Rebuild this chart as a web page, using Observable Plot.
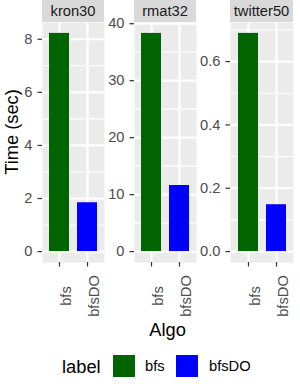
<!DOCTYPE html>
<html>
<head>
<meta charset="utf-8">
<script src="https://cdn.jsdelivr.net/npm/d3@7"></script>
<script src="https://cdn.jsdelivr.net/npm/@observablehq/plot@0.6"></script>
<style>
  html, body { margin: 0; padding: 0; background: #fff; }
  #chart { position: relative; width: 300px; height: 390px; overflow: hidden;
           font-family: "Liberation Sans", Arial, sans-serif; }
  #chart > * { position: absolute; }
  .strip { background: #D9D9D9; color: #1A1A1A; font-size: 14.7px; line-height: 22px;
           text-align: center; white-space: nowrap; }
  .title { color: #000; font-size: 18.3px; line-height: 1; white-space: nowrap; }
  .ytitle { line-height: 21px; }
  .key { width: 22px; height: 22px; }
  .keylabel { color: #000; font-size: 14.7px; line-height: 1; white-space: nowrap; }
</style>
</head>
<body>
<div id="chart"></div>
<script>
// Facets, algorithms and their run times (seconds)
const graphs = ["kron30", "rmat32", "twitter50"];
const algos = ["bfs", "bfsDO"];
const kron30Times = [8.22, 1.84];
const rmat32Times = [38.3, 11.6];
const twitter50Times = [0.689, 0.148];

// Axis ticks per facet (major ticks are labelled, minor ones only get a grid line)
const kron30Ticks = [0, 2, 4, 6, 8];
const kron30Minor = [1, 3, 5, 7];
const rmat32Ticks = [0, 10, 20, 30, 40];
const rmat32Minor = [5, 15, 25, 35];
const twitter50Ticks = [0, 0.2, 0.4, 0.6];
const twitter50Minor = [0.1, 0.3, 0.5, 0.7];

const algoColors = ["#006400", "#0000FF"];

const facetData = [
  {name: graphs[0], times: kron30Times, ticks: kron30Ticks, minor: kron30Minor, fmt: d3.format("d")},
  {name: graphs[1], times: rmat32Times, ticks: rmat32Ticks, minor: rmat32Minor, fmt: d3.format("d")},
  {name: graphs[2], times: twitter50Times, ticks: twitter50Ticks, minor: twitter50Minor, fmt: d3.format(".1f")}
];

// Panel placement: svg left edge and the space reserved for the y axis
const layout = [
  {left: 0, marginLeft: 42, panelWidth: 62},
  {left: 104, marginLeft: 30, panelWidth: 62},
  {left: 196, marginLeft: 34, panelWidth: 63}
];

const chart = document.getElementById("chart");
const marginTop = 22, panelHeight = 240, marginBottom = 56;
const font = "'Liberation Sans', Arial, sans-serif";

facetData.forEach((f, i) => {
  const L = layout[i];
  const rows = algos.map((a, j) => ({algo: a, time: f.times[j]}));
  const maxT = d3.max(f.times);
  const svg = Plot.plot({
    width: L.marginLeft + L.panelWidth,
    height: marginTop + panelHeight + marginBottom,
    marginTop, marginBottom, marginLeft: L.marginLeft, marginRight: 0,
    x: {domain: algos, paddingInner: 0.29, paddingOuter: 0.245, axis: null},
    y: {domain: [-0.05 * maxT, 1.05 * maxT], axis: null},
    color: {domain: algos, range: algoColors},
    style: {fontFamily: font, fontSize: "14.7px", background: "transparent", overflow: "visible"},
    marks: [
      Plot.frame({fill: "#EBEBEB", stroke: "none"}),
      Plot.gridY(f.minor, {stroke: "#fff", strokeOpacity: 1, strokeWidth: 1.1}),
      Plot.gridY(f.ticks, {stroke: "#fff", strokeOpacity: 1, strokeWidth: 2.2}),
      Plot.gridX({stroke: "#fff", strokeOpacity: 1, strokeWidth: 2.2}),
      Plot.barY(rows, {x: "algo", y: "time", fill: "algo"}),
      Plot.axisY(f.ticks, {tickSize: 4.5, tickPadding: 5.5, stroke: "#333333", strokeWidth: 1.2,
                           fill: "#4D4D4D", fontSize: 14.7, tickFormat: f.fmt, label: null}),
      Plot.axisX({tickSize: 4.5, stroke: "#333333", strokeWidth: 1.2, tickFormat: () => "", label: null}),
      Plot.text(algos, {x: d => d, text: d => d, frameAnchor: "bottom", rotate: -90,
                        dx: 7, dy: 33.5, fill: "#4D4D4D", fontSize: 14.7,
                        textAnchor: "middle", lineAnchor: "middle"})
    ]
  });
  svg.style.left = L.left + "px";
  svg.style.top = "0px";
  chart.appendChild(svg);

  const strip = document.createElement("div");
  strip.className = "strip";
  strip.style.left = (L.left + L.marginLeft) + "px";
  strip.style.top = "0px";
  strip.style.width = L.panelWidth + "px";
  strip.style.height = "22px";
  strip.textContent = f.name;
  chart.appendChild(strip);
});

// Axis titles
const yTitle = document.createElement("div");
yTitle.className = "title ytitle";
yTitle.textContent = "Time (sec)";
yTitle.style.left = "10.5px";
yTitle.style.top = "131.5px";
yTitle.style.transform = "translate(-50%, -50%) rotate(-90deg)";
chart.appendChild(yTitle);

const xTitle = document.createElement("div");
xTitle.className = "title";
xTitle.textContent = "Algo";
xTitle.style.left = "167.5px";
xTitle.style.top = "320.5px";
xTitle.style.transform = "translateX(-50%)";
chart.appendChild(xTitle);

// Legend
const legTitle = document.createElement("div");
legTitle.className = "title";
legTitle.textContent = "label";
legTitle.style.left = "62px";
legTitle.style.top = "357.5px";
chart.appendChild(legTitle);

const keyLeft = [113, 176];
const labelLeft = [145, 209];
algos.forEach((a, j) => {
  const key = document.createElement("div");
  key.className = "key";
  key.style.left = keyLeft[j] + "px";
  key.style.top = "355px";
  key.style.background = algoColors[j];
  chart.appendChild(key);
  const lab = document.createElement("div");
  lab.className = "keylabel";
  lab.textContent = a;
  lab.style.left = labelLeft[j] + "px";
  lab.style.top = "359px";
  chart.appendChild(lab);
});
</script>
</body>
</html>
